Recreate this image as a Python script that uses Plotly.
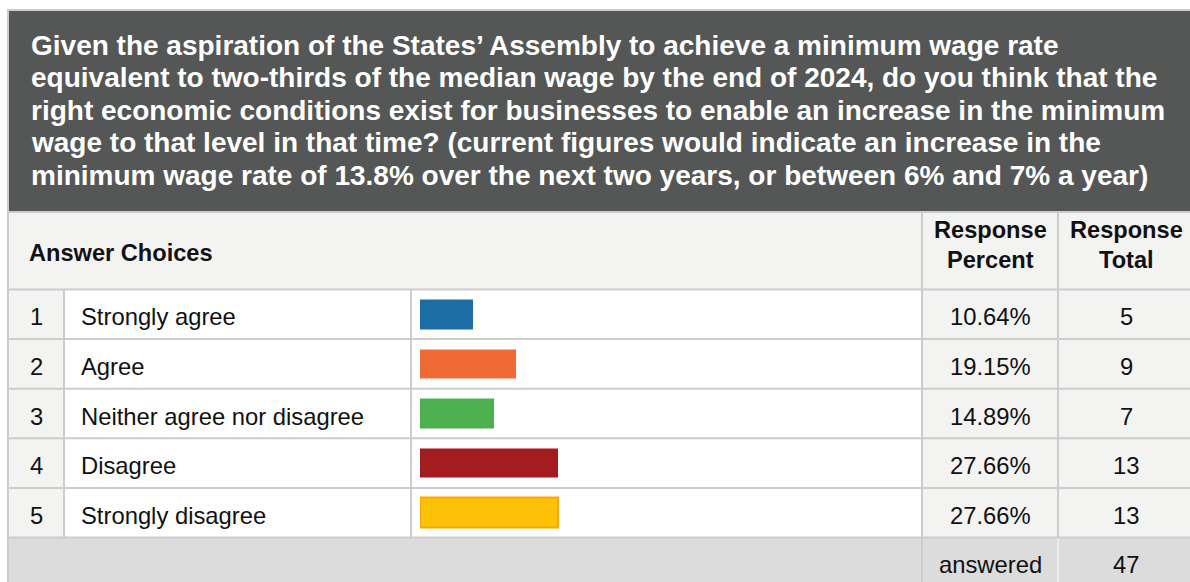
import plotly.graph_objects as go

# ---------------- data ----------------
TITLE_LINES = [
    "Given the aspiration of the States’ Assembly to achieve a minimum wage rate",
    "equivalent to two-thirds of the median wage by the end of 2024, do you think that the",
    "right economic conditions exist for businesses to enable an increase in the minimum",
    "wage to that level in that time? (current figures would indicate an increase in the",
    "minimum wage rate of 13.8% over the next two years, or between 6% and 7% a year)",
]
numbers = [1, 2, 3, 4, 5]
choices = ["Strongly agree", "Agree", "Neither agree nor disagree", "Disagree", "Strongly disagree"]
percents = [10.64, 19.15, 14.89, 27.66, 27.66]
totals = [5, 9, 7, 13, 13]
answered = 47
bar_colors = ["#1c6ea4", "#f06a35", "#4caf50", "#a31c1f", "#ffc107"]
bar_line_colors = ["#1c6ea4", "#f06a35", "#4caf50", "#a31c1f", "#ffa500"]
bar_line_widths = [0, 0, 0, 0, 2]

# ---------------- geometry helpers ----------------
W, H = 1190, 582
def X(px):
    return px / W
def Y(px):
    return 1 - px / H

FONT = "Liberation Sans, Arial, sans-serif"
GRID = "#cccccc"
LIGHT = "#f3f3f2"
DARK = "#555756"
FOOT = "#dcdcdc"

row_top_px, row_bot_px = 289.5, 537.5
n = len(choices)
row_px = (row_bot_px - row_top_px) / n
text_shift = 2.5 / row_px  # text sits slightly below row centre

fig = go.Figure()
fig.add_trace(go.Bar(
    x=percents, y=numbers, orientation="h", width=0.6,
    marker=dict(color=bar_colors, line=dict(color=bar_line_colors, width=bar_line_widths)),
    hoverinfo="skip", showlegend=False,
))

shapes = []
def rect(x0, y0, x1, y1, fill):
    shapes.append(dict(type="rect", xref="paper", yref="paper", x0=X(x0), x1=X(x1),
                       y0=Y(y0), y1=Y(y1), fillcolor=fill, line=dict(width=0), layer="below"))
def vline(x, y0, y1, color=GRID, w=2):
    shapes.append(dict(type="line", xref="paper", yref="paper", x0=X(x), x1=X(x),
                       y0=Y(y0), y1=Y(y1), line=dict(color=color, width=w), layer="below"))
def hline(y, x0=7, x1=1192, color=GRID, w=2):
    shapes.append(dict(type="line", xref="paper", yref="paper", x0=X(x0), x1=X(x1),
                       y0=Y(y), y1=Y(y), line=dict(color=color, width=w), layer="below"))

# title block
rect(7, 9, 1192, 212, DARK)
# header row
rect(8, 212, 1192, row_top_px, LIGHT)
# data columns backgrounds
rect(8, row_top_px, 64, row_bot_px, LIGHT)
rect(64, row_top_px, 922, row_bot_px, "white")
rect(922, row_top_px, 1192, row_bot_px, LIGHT)
# footer
rect(8, row_bot_px, 1192, 590, FOOT)

# outer border
hline(10, 7, 1192)
vline(8, 9, 590)
# horizontal separators
hline(212)
hline(row_top_px)
hline(row_bot_px)
# row separators via data axis
for i in range(1, n):
    shapes.append(dict(type="line", xref="paper", yref="y", x0=X(8), x1=X(1192),
                       y0=i + 0.5, y1=i + 0.5, line=dict(color=GRID, width=2), layer="below"))
# vertical separators
vline(64, row_top_px, row_bot_px)
vline(411, row_top_px, row_bot_px)
vline(922, 212, 590)
vline(1058, 212, row_bot_px)
vline(1058, row_bot_px + 1, 590, color="white", w=1)

annotations = []
def ann(text, x, y, xanchor="left", size=23.8, bold=False, color="#111111", yref="paper"):
    annotations.append(dict(
        text=f"<b>{text}</b>" if bold else text, x=X(x), y=(Y(y) if yref == "paper" else y),
        xref="paper", yref=yref, xanchor=xanchor, yanchor="middle", showarrow=False,
        font=dict(family=FONT, size=size, color=color)))

title_centers = [45.5, 78, 110.5, 142.5, 175]
for line, yc in zip(TITLE_LINES, title_centers):
    ann(line, 29, yc, size=28, bold=True, color="white")

ann("Answer Choices", 27, 252.5, bold=True, size=23.6)
ann("Response", 990, 230.5, xanchor="center", bold=True, size=23.6)
ann("Percent", 990, 259.5, xanchor="center", bold=True, size=23.6)
ann("Response", 1126, 230.5, xanchor="center", bold=True, size=23.6)
ann("Total", 1126, 259.5, xanchor="center", bold=True, size=23.6)

for num, ch, p, t in zip(numbers, choices, percents, totals):
    yy = num + text_shift
    ann(str(num), 36, yy, xanchor="center", yref="y")
    ann(ch, 79, yy, yref="y")
    ann(f"{p:.2f}%", 990, yy, xanchor="center", yref="y")
    ann(str(t), 1126, yy, xanchor="center", yref="y")

ann("answered", 990, 564.5, xanchor="center")
ann(str(answered), 1126, 564.5, xanchor="center")

fig.update_layout(
    width=W, height=H, autosize=False,
    margin=dict(l=0, r=0, t=0, b=0),
    paper_bgcolor="white", plot_bgcolor="rgba(0,0,0,0)",
    xaxis=dict(domain=[X(420), X(920)], range=[0, 100], visible=False, fixedrange=True),
    yaxis=dict(domain=[Y(row_bot_px), Y(row_top_px)], range=[n + 0.5, 0.5], visible=False, fixedrange=True),
    shapes=shapes, annotations=annotations, bargap=0,
)

fig.write_html("out.html", config={"displayModeBar": False})
